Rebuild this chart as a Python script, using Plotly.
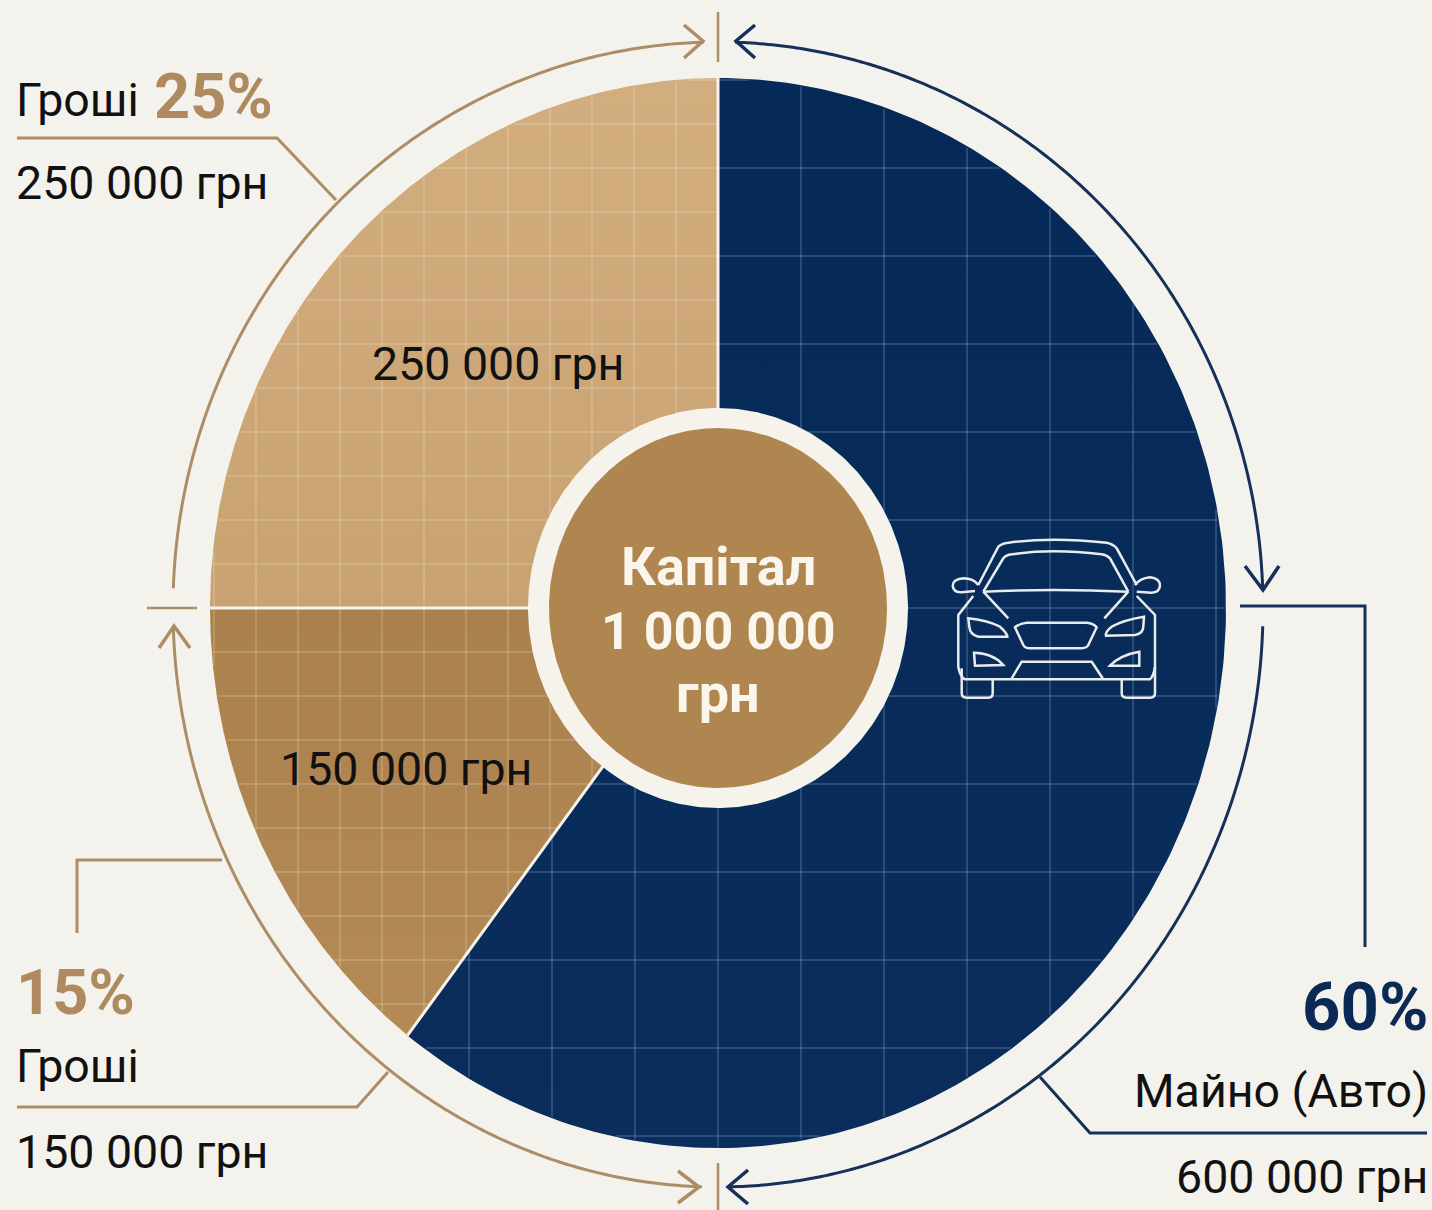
import numpy as np
import plotly.graph_objects as go

# ---- data ----
capital_title = "Капітал"
capital_total = 1000000
currency = "грн"
categories = ["Майно (Авто)", "Гроші", "Гроші"]
amounts = [600000, 150000, 250000]  # clockwise from 12 o'clock
shares = [60, 15, 25]

W, H = 1432, 1210
BG = "#F4F2ED"
RING = "#F6F3EC"
TAN_LINE = "#AC8D66"
NAVY_LINE = "#17305A"
TEXT = "#111111"
FONT = "Roboto"
BOLD = "Roboto"
CX, CY = 718, 608


def money(v):
    return f"{v:,}".replace(",", " ") + " " + currency


def ell_r(t, top=530, bottom=540, rx=508):
    ry = np.where(np.cos(t) >= 0, top, bottom)
    return 1 / np.sqrt((np.sin(t) / rx) ** 2 + (np.cos(t) / ry) ** 2)


def wedge(a0, a1):
    t = np.linspace(a0, a1, 240)
    r = ell_r(t)
    x = CX + r * np.sin(t)
    y = CY - r * np.cos(t)
    return np.r_[CX, x, CX], np.r_[CY, y, CY]


fracs = np.array(amounts) / capital_total
edges = np.r_[0, np.cumsum(fracs)] * 2 * np.pi

fig = go.Figure()


def line(x, y, color, width=3):
    fig.add_trace(go.Scatter(x=x, y=y, mode="lines", hoverinfo="skip",
                             line=dict(color=color, width=width, simplify=False)))


grads = [
    ("vertical", [[0, "#062A57"], [1, "#0A2D5B"]], 78, 1148),
    ("vertical", [[0, "#AA804C"], [1, "#B48B57"]], 608, 1040),
    ("vertical", [[0, "#D2AD7D"], [1, "#C9A272"]], 78, 608),
]
for i in range(3):
    x, y = wedge(edges[i], edges[i + 1])
    g = grads[i]
    fig.add_trace(go.Scatter(x=x, y=y, mode="lines", fill="toself", hoverinfo="skip",
                             line=dict(width=0, color="rgba(0,0,0,0)"),
                             fillgradient=dict(type=g[0], colorscale=g[1], start=g[2], stop=g[3])))


def in_wedge(px, py, a0, a1):
    dx, dy = px - CX, py - CY
    t = np.mod(np.arctan2(dx, -dy), 2 * np.pi)
    r = np.hypot(dx, dy)
    return (t >= a0) & (t <= a1) & (r <= ell_r(t) - 1)


def grid(a0, a1, sx, sy, color, width):
    xs, ys = [], []
    for k in range(-14, 15):
        px = np.full(1300, CX + k * sx, dtype=float)
        py = np.linspace(0, H, 1300)
        m = in_wedge(px, py, a0, a1)
        xs += list(np.where(m, px, np.nan)) + [None]
        ys += list(np.where(m, py, np.nan)) + [None]
    for k in range(-14, 15):
        py = np.full(1500, CY + k * sy, dtype=float)
        px = np.linspace(0, W, 1500)
        m = in_wedge(px, py, a0, a1)
        xs += list(np.where(m, px, np.nan)) + [None]
        ys += list(np.where(m, py, np.nan)) + [None]
    xs = [None if (v is None or np.isnan(v)) else float(v) for v in xs]
    ys = [None if (v is None or np.isnan(v)) else float(v) for v in ys]
    fig.add_trace(go.Scatter(x=xs, y=ys, mode="lines", hoverinfo="skip", connectgaps=False,
                             line=dict(color=color, width=width)))


grid(edges[0], edges[1], 83, 88, "rgba(150,180,225,0.32)", 1.5)
grid(edges[1], edges[2], 42, 44, "rgba(255,232,200,0.26)", 1.5)
grid(edges[2], edges[3], 42, 44, "rgba(255,238,212,0.26)", 1.5)

for e in edges[:3]:
    r = float(ell_r(np.array([e]))[0])
    line([CX, CX + r * np.sin(e)], [CY, CY - r * np.cos(e)], RING, 3)


def ellipse(rx, ry, color):
    t = np.linspace(0, 2 * np.pi, 361)
    fig.add_trace(go.Scatter(x=CX + rx * np.sin(t), y=CY - ry * np.cos(t), mode="lines",
                             fill="toself", fillcolor=color, hoverinfo="skip",
                             line=dict(width=0, color=color)))


ellipse(190, 200, RING)
ellipse(169, 180, "#B08650")


def arc(p0, p1, rx, ry, color):
    t = np.radians(np.linspace(p0, p1, 200))
    line(CX + rx * np.sin(t), CY - ry * np.cos(t), color, 3)


arc(-1.5, -88, 545, 566, TAN_LINE)
arc(1.8, 88.2, 545, 566, NAVY_LINE)
arc(-91.8, -178.3, 545, 579, TAN_LINE)
arc(91.8, 178.8, 545, 579, NAVY_LINE)

for pts, c in [
    ([(684, 25), (703, 41), (684, 58)], TAN_LINE),
    ([(755, 25), (736, 41), (755, 58)], NAVY_LINE),
    ([(1245, 566), (1263, 590), (1279, 566)], NAVY_LINE),
    ([(159, 648), (174, 626), (190, 648)], TAN_LINE),
    ([(678, 1171), (699, 1187), (678, 1203)], TAN_LINE),
    ([(748, 1170), (728, 1187), (748, 1204)], NAVY_LINE),
]:
    line([p[0] for p in pts], [p[1] for p in pts], c, 3.5)

line([718, 718], [12, 62], TAN_LINE, 2.5)
line([147, 197], [608, 608], TAN_LINE, 2.5)
line([718, 718], [1163, 1210], TAN_LINE, 2.5)

line([17, 277, 336], [138, 138, 200], TAN_LINE, 3)
line([222, 77, 77], [860, 860, 933], TAN_LINE, 3)
line([17, 357, 388], [1107, 1107, 1072], TAN_LINE, 3)
line([1240, 1365, 1365], [606, 606, 947], NAVY_LINE, 3)
line([1040, 1090, 1427], [1077, 1133, 1133], NAVY_LINE, 3)

car_paths = [
    "M175,195 L235,80 Q245,70 265,68 Q395,50 560,68 Q580,72 590,85 L650,195",
    "M160,228 L115,285 L115,440 Q120,470 135,478 L690,478 Q700,470 705,440 L705,285 L650,228",
    "M190,215 L250,115 Q258,105 275,103 Q395,85 545,103 Q560,105 570,115 L625,215",
    "M190,215 Q395,205 625,215",
    "M190,215 L265,295",
    "M625,215 L553,295",
    "M175,195 Q160,175 130,175 Q98,178 98,197 Q100,218 125,217 L165,213",
    "M645,195 Q660,175 690,172 Q720,175 720,197 Q718,218 695,218 L650,215",
    "M145,295 Q200,300 240,320 Q262,340 262,350 L175,350 Q150,345 148,320 Z",
    "M672,290 Q610,300 575,320 Q555,335 558,347 L645,345 Q670,340 670,320 Z",
    "M285,322 Q300,310 320,308 L500,308 Q520,310 530,322 L505,375 Q500,385 480,385 L330,385 Q315,385 310,375 Z",
    "M162,398 Q220,400 250,435 L165,437 Z",
    "M658,395 Q600,405 570,437 L658,437 Z",
    "M275,475 L305,425 L515,425 L548,475",
    "M125,445 L125,520 Q125,533 140,533 L205,533 Q218,533 218,520 L218,478",
    "M605,478 L605,520 Q605,533 620,533 L690,533 Q705,533 705,520 L705,440",
]


def car_xy(path):
    out, nums = [], []
    for tok in path.replace(",", " ").split():
        c = tok[0]
        if c.isalpha():
            out.append(c)
            tok = tok[1:]
        if tok:
            nums.append(float(tok))
            k = len(nums) % 2
            v = 920 + nums[-1] / 3 if k else 520 + nums[-1] / 3
            out.append(f"{v:.1f}" + ("," if k else ""))
    return " ".join(out).replace(", ", ",")


shapes = [dict(type="path", path=car_xy(p), xref="x", yref="y", layer="above",
               line=dict(color="#E8ECEF", width=2.5)) for p in car_paths]

annotations = []


def txt(s, x, y, anchor="left", size=46.5, color=TEXT, family=FONT, bold=False):
    annotations.append(dict(text=f"<b>{s}</b>" if bold else s, x=x, y=y, xref="x", yref="y",
                            showarrow=False, xanchor=anchor, yanchor="middle",
                            borderpad=0, font=dict(size=size, color=color, family=family)))


pct = lambda v: f"{v}%"
PCT_TAN = "#AE8A5E"
txt(categories[2], 15, 100)
txt(pct(shares[2]), 153, 96, size=63, color=PCT_TAN, family=BOLD, bold=True)
txt(money(amounts[2]), 15, 183)
txt(pct(shares[1]), 15, 992, size=63, color=PCT_TAN, family=BOLD, bold=True)
txt(categories[1], 15, 1066)
txt(money(amounts[1]), 15, 1152)
txt(pct(shares[0]), 1429, 1007, anchor="right", size=67, color="#0A2A55", family=BOLD, bold=True)
txt(categories[0], 1429, 1091, anchor="right")
txt(money(amounts[0]), 1429, 1177, anchor="right")
txt(money(amounts[2]), 498, 364, anchor="center")
txt(money(amounts[1]), 406, 769, anchor="center")
CENTER = "#FBF6EC"
txt(capital_title, 718, 566, anchor="center", size=54, color=CENTER, family=BOLD, bold=True)
txt(f"{capital_total:,}".replace(",", " "), 718, 631, anchor="center", size=52, color=CENTER, family=BOLD, bold=True)
txt(currency, 718, 693, anchor="center", size=54, color=CENTER, family=BOLD, bold=True)

fig.update_layout(
    width=W, height=H, margin=dict(l=0, r=0, t=0, b=0), showlegend=False,
    paper_bgcolor=BG, plot_bgcolor=BG, shapes=shapes, annotations=annotations,
    xaxis=dict(range=[0, W], visible=False, fixedrange=True),
    yaxis=dict(range=[H, 0], visible=False, fixedrange=True),
)
fig.write_html("out.html", config={"displayModeBar": False},
               post_script="document.body.style.margin='0';document.body.style.overflow='hidden';document.body.style.background='#F4F2ED';")
